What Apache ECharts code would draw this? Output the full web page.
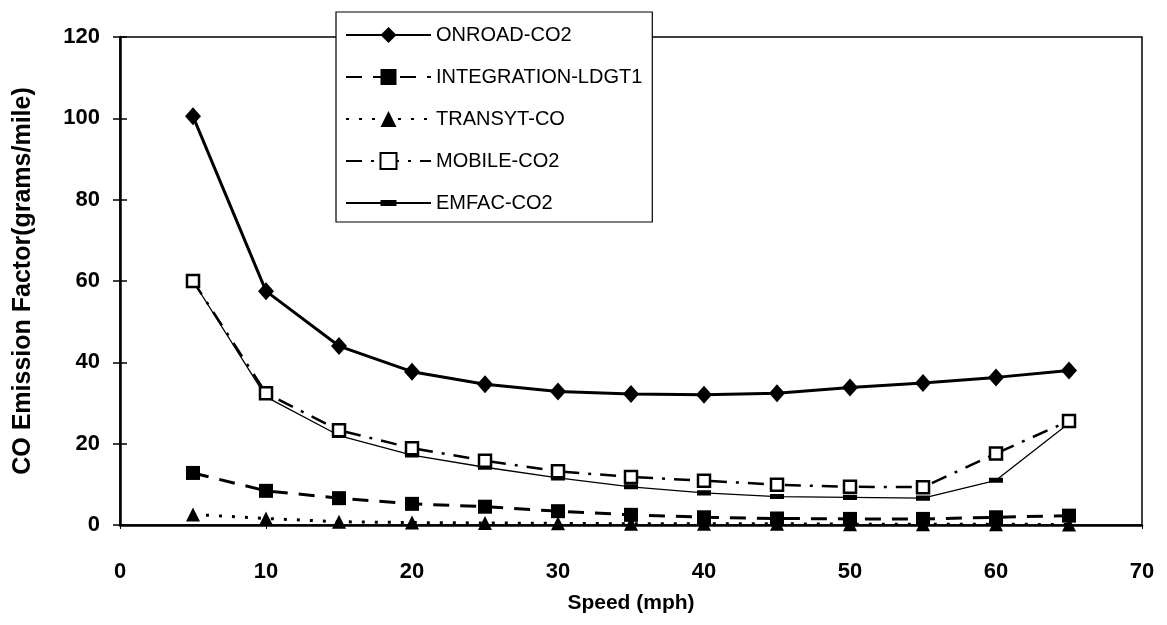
<!DOCTYPE html>
<html>
<head>
<meta charset="utf-8">
<title>CO Emission Factor vs Speed</title>
<script src="https://cdn.jsdelivr.net/npm/echarts@6/dist/echarts.min.js"></script>
<style>
  html, body { margin: 0; padding: 0; background: #fff; }
  #chart { width: 1167px; height: 625px; }
</style>
</head>
<body>
<div id="chart"></div>
<script>
// speeds (mph)
const speeds = [5, 10, 15, 20, 25, 30, 35, 40, 45, 50, 55, 60, 65];

// CO emission factors (grams/mile)
const onroadCO2 = [100.5, 57.5, 44, 37.7, 34.6, 32.8, 32.2, 32, 32.4, 33.8, 34.9, 36.3, 38];
const integrationLDGT1 = [12.8, 8.4, 6.6, 5.2, 4.5, 3.4, 2.5, 1.9, 1.6, 1.5, 1.5, 1.9, 2.3];
const transytCO = [2.6, 1.6, 0.8, 0.6, 0.5, 0.4, 0.3, 0.3, 0.3, 0.2, 0.2, 0.2, 0.1];
const mobileCO2 = [60, 32.4, 23.3, 18.9, 15.8, 13.2, 11.8, 10.9, 9.9, 9.4, 9.3, 17.6, 25.6];
const emfacCO2 = [60, 31.5, 22, 17.2, 14.2, 11.6, 9.4, 7.9, 7, 6.8, 6.6, 11, 25];

const seriesNames = ['ONROAD-CO2', 'INTEGRATION-LDGT1', 'TRANSYT-CO', 'MOBILE-CO2', 'EMFAC-CO2'];

const yTicks = [0, 20, 40, 60, 80, 100, 120];
const xTicks = [0, 10, 20, 30, 40, 50, 60, 70];

const pairs = (vals) => speeds.map((s, i) => [s, vals[i]]);

const font = '"Liberation Sans", Arial, sans-serif';

// horizontal bar inside a square box, so it keeps its shape in the legend too
const barSymbol = 'path://M0,3.8H12V8.2H0Z M0,0L0.01,0 M0,12L0.01,12';

var myChart = echarts.init(document.getElementById('chart'));
var option = {
  backgroundColor: '#fff',
  animation: false,
  textStyle: { fontFamily: font, color: '#000' },
  grid: {
    left: 120,
    right: 25,
    top: 37,
    bottom: 100,
    show: true,
    borderColor: '#000',
    borderWidth: 1.5,
    backgroundColor: 'transparent',
  },
  legend: {
    data: seriesNames,
    orient: 'vertical',
    left: 336,
    top: 12,
    width: 316,
    padding: [13, 10, 9, 9],
    itemWidth: 85,
    itemHeight: 20,
    itemGap: 22,
    backgroundColor: '#fff',
    borderColor: '#000',
    borderWidth: 1.2,
    textStyle: { fontSize: 20, color: '#000', fontFamily: font },
    z: 10,
  },
  xAxis: {
    type: 'value',
    min: 0,
    max: 70,
    interval: 10,
    name: 'Speed (mph)',
    nameLocation: 'middle',
    nameGap: 68,
    nameTextStyle: { fontSize: 21, fontWeight: 'bold', color: '#000' },
    axisLine: { lineStyle: { color: '#000', width: 2.5 } },
    axisTick: { show: true, length: 4, lineStyle: { color: '#000', width: 1 } },
    axisLabel: {
      fontSize: 22,
      fontWeight: 'bold',
      color: '#000',
      margin: 36,
      formatter: (v) => (xTicks.includes(v) ? String(v) : ''),
    },
    splitLine: { show: false },
  },
  yAxis: [
    {
      type: 'value',
      min: 0,
      max: 120,
      interval: 20,
      name: 'CO Emission Factor(grams/mile)',
      nameLocation: 'middle',
      nameGap: 84,
      nameTextStyle: { fontSize: 25, fontWeight: 'bold', color: '#000' },
      axisLine: { show: true, lineStyle: { color: '#000', width: 2.5 } },
      axisTick: { show: true, length: 7, lineStyle: { color: '#000', width: 1.5 } },
      axisLabel: {
        fontSize: 22,
        fontWeight: 'bold',
        color: '#000',
        margin: 20,
        formatter: (v) => (yTicks.includes(v) ? String(v) : ''),
      },
      splitLine: { show: false },
    },
    {
      // inner half of the crossing ticks
      type: 'value',
      position: 'left',
      min: 0,
      max: 120,
      interval: 20,
      axisLine: { show: false },
      axisTick: { show: true, inside: true, length: 7, lineStyle: { color: '#000', width: 1.5 } },
      axisLabel: { show: false },
      splitLine: { show: false },
    },
  ],
  series: [
    {
      name: 'ONROAD-CO2',
      type: 'line',
      data: pairs(onroadCO2),
      symbol: 'diamond',
      symbolSize: [16, 18],
      itemStyle: { color: '#000' },
      lineStyle: { color: '#000', width: 3, type: 'solid' },
      z: 5,
    },
    {
      name: 'INTEGRATION-LDGT1',
      type: 'line',
      data: pairs(integrationLDGT1),
      symbol: 'rect',
      symbolSize: 14,
      itemStyle: { color: '#000' },
      lineStyle: { color: '#000', width: 3, type: [16, 11] },
      z: 4,
    },
    {
      name: 'TRANSYT-CO',
      type: 'line',
      data: pairs(transytCO),
      symbol: 'triangle',
      symbolSize: 14,
      itemStyle: { color: '#000' },
      lineStyle: { color: '#000', width: 3, type: [3, 10] },
      z: 3,
    },
    {
      name: 'MOBILE-CO2',
      type: 'line',
      data: pairs(mobileCO2),
      symbol: 'rect',
      symbolSize: 12,
      itemStyle: { color: '#fff', borderColor: '#000', borderWidth: 2.5 },
      lineStyle: { color: '#000', width: 2.5, type: [16, 9, 3, 9] },
      z: 6,
    },
    {
      name: 'EMFAC-CO2',
      type: 'line',
      data: pairs(emfacCO2),
      symbol: barSymbol,
      symbolSize: [14, 14],
      itemStyle: { color: '#000' },
      lineStyle: { color: '#000', width: 1.3, type: 'solid' },
      z: 2,
    },
  ],
};

myChart.setOption(option);
</script>
</body>
</html>
